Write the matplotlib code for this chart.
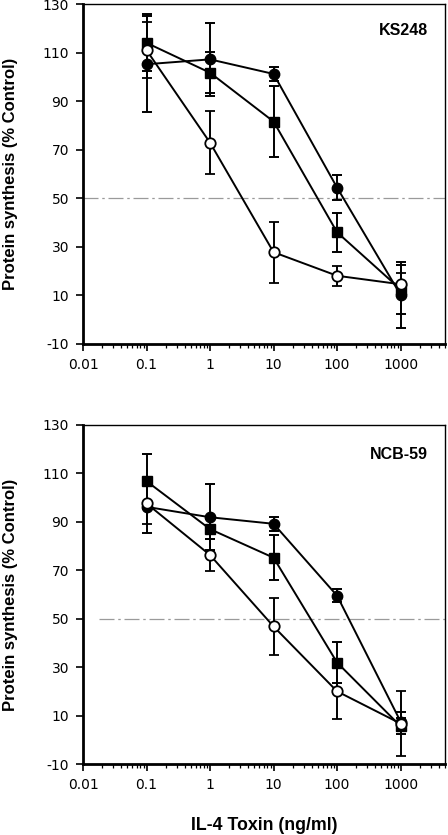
import matplotlib
matplotlib.use("Agg")
import matplotlib.pyplot as plt
from matplotlib.ticker import LogLocator, FixedLocator, NullFormatter
import numpy as np

plt.rcParams["font.family"] = ["Liberation Sans", "DejaVu Sans"]

# IL-4 toxin dose (ng/ml)
dose = [0.1, 1, 10, 100, 1000]
yticks = [-10, 10, 30, 50, 70, 90, 110, 130]
xticks = [0.01, 0.1, 1, 10, 100, 1000]
xtick_labels = ["0.01", "0.1", "1", "10", "100", "1000"]

# KS248 panel
ks_fcirc = [105.2, 107.2, 101.2, 54.4, 10.2]
ks_fcirc_err = [19.7, 15.0, 3.0, 5.0, 13.5]
ks_square = [114.0, 101.7, 81.6, 36.0, 12.5]
ks_square_err = [11.7, 8.4, 14.7, 8.0, 10.0]
ks_ocirc = [111.0, 72.9, 27.8, 18.1, 14.6]
ks_ocirc_err = [11.5, 13.0, 12.6, 4.2, 4.6]

# NCB-59 panel
ncb_fcirc = [96.2, 91.9, 89.2, 59.5, 7.5]
ncb_fcirc_err = [11.0, 13.6, 3.0, 2.7, 4.0]
ncb_square = [106.8, 87.0, 75.2, 31.9, 5.6]
ncb_square_err = [11.4, 4.0, 9.2, 8.6, 3.3]
ncb_ocirc = [97.6, 76.3, 46.8, 20.0, 6.7]
ncb_ocirc_err = [8.5, 6.7, 11.8, 11.3, 13.5]

W, H = 448, 835
fig = plt.figure(figsize=(W / 100, H / 100), dpi=100)
ax1 = fig.add_axes([83 / W, (H - 344) / H, 362 / W, 340 / H])
ax2 = fig.add_axes([83 / W, (H - 764) / H, 362 / W, 339 / H])


def draw_panel(ax, fc, fce, sq, sqe, oc, oce, name, line_start, name_y):
    ax.set_xscale("log")
    ax.hlines(50, line_start, 5000, colors="#9a9a9a", linestyles=(0, (12, 3, 2, 3)),
              linewidth=0.9, zorder=1)
    common = dict(color="black", linewidth=1.4, elinewidth=1.4, capsize=3.5,
                  capthick=1.4, markersize=7.5, zorder=3)
    ax.errorbar(dose, sq, yerr=sqe, marker="s", markerfacecolor="black",
                markeredgecolor="black", **common)
    ax.errorbar(dose, fc, yerr=fce, marker="o", markerfacecolor="black",
                markeredgecolor="black", **common)
    ax.errorbar(dose, oc, yerr=oce, marker="o", markerfacecolor="white",
                markeredgecolor="black", markeredgewidth=1.3, **common)
    ax.set_xlim(0.01, 5000)
    ax.set_ylim(-10, 130)
    ax.set_yticks(yticks)
    ax.set_yticklabels([str(v) for v in yticks])
    ax.xaxis.set_major_locator(FixedLocator(xticks))
    ax.set_xticklabels(xtick_labels)
    ax.xaxis.set_minor_locator(LogLocator(base=10, subs=np.arange(2, 10), numticks=20))
    ax.xaxis.set_minor_formatter(NullFormatter())
    ax.tick_params(axis="both", which="major", direction="out", length=5,
                   width=1.2, labelsize=10, pad=5)
    ax.tick_params(axis="x", which="minor", direction="out", length=3, width=0.9)
    for lbl in ax.get_xticklabels() + ax.get_yticklabels():
        lbl.set_fontfamily("DejaVu Sans")
    ax.spines["left"].set_linewidth(2.0)
    ax.spines["bottom"].set_linewidth(2.0)
    ax.spines["top"].set_linewidth(1.0)
    ax.spines["right"].set_linewidth(1.0)
    ax.set_ylabel("Protein synthesis (% Control)", fontsize=12, fontweight="bold",
                  labelpad=18)
    ax.text(0.953, name_y, name, transform=ax.transAxes, ha="right", va="top",
            fontsize=11.5, fontweight="bold")


draw_panel(ax1, ks_fcirc, ks_fcirc_err, ks_square, ks_square_err,
           ks_ocirc, ks_ocirc_err, "KS248", 0.01, 0.945)
draw_panel(ax2, ncb_fcirc, ncb_fcirc_err, ncb_square, ncb_square_err,
           ncb_ocirc, ncb_ocirc_err, "NCB-59", 0.018, 0.935)
ax2.set_xlabel("IL-4 Toxin (ng/ml)", fontsize=12.8, fontweight="bold", labelpad=18)

fig.savefig("out.png", dpi=100)
